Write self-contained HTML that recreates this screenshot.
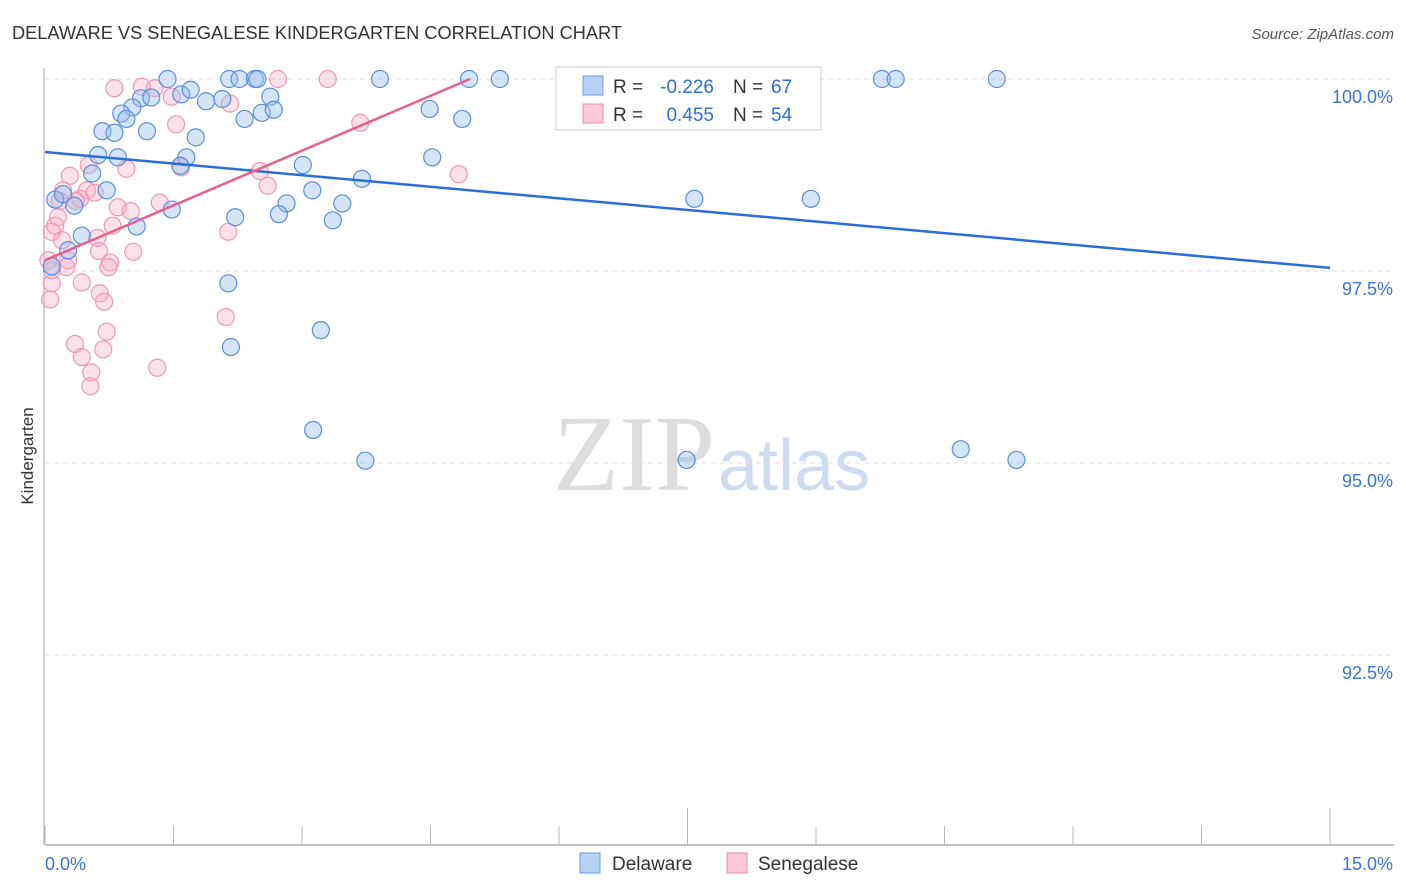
<!DOCTYPE html>
<html><head><meta charset="utf-8"><style>
body{margin:0;background:#fff;font-family:"Liberation Sans",sans-serif}
svg{display:block}
</style></head><body>
<svg width="1406" height="892" xmlns="http://www.w3.org/2000/svg">
<text x="12" y="39" font-size="18" fill="#333" textLength="610" lengthAdjust="spacingAndGlyphs">DELAWARE VS SENEGALESE KINDERGARTEN CORRELATION CHART</text>
<text x="1394" y="39" font-size="15" fill="#555" font-style="italic" text-anchor="end">Source: ZipAtlas.com</text>
<text x="715" y="490" font-size="108" fill="#ddd" text-anchor="end" font-family="Liberation Serif">ZIP</text>
<text x="718" y="490" font-size="72" fill="#cfdcf0">atlas</text>
<g id="grid"></g><g id="axes"></g><g id="pts"></g><g id="lines"></g>
<text transform="translate(33,456) rotate(-90)" font-size="17" fill="#333" text-anchor="middle">Kindergarten</text>
<g>
<rect x="556" y="67" width="265" height="63" fill="#fff" stroke="#ccc"/>
<rect x="583" y="76" width="20" height="19" fill="#b8d3f5" stroke="#6a9de0"/>
<rect x="583" y="104" width="20" height="19" fill="#fcc9d8" stroke="#ec8fad"/>
<text x="613" y="93" font-size="19" fill="#333">R =</text>
<text x="714" y="93" font-size="19" fill="#2f6fd6" text-anchor="end">-0.226</text>
<text x="733" y="93" font-size="19" fill="#333">N =</text>
<text x="771" y="93" font-size="19" fill="#2f6fd6">67</text>
<text x="613" y="121" font-size="19" fill="#333">R =</text>
<text x="714" y="121" font-size="19" fill="#2f6fd6" text-anchor="end">0.455</text>
<text x="733" y="121" font-size="19" fill="#333">N =</text>
<text x="771" y="121" font-size="19" fill="#2f6fd6">54</text>
</g>
<g>
<rect x="580" y="853" width="20" height="20" fill="#b8d3f5" stroke="#6a9de0"/>
<text x="612" y="870" font-size="19" fill="#333">Delaware</text>
<rect x="727" y="853" width="20" height="20" fill="#fcc9d8" stroke="#ec8fad"/>
<text x="758" y="870" font-size="19" fill="#333">Senegalese</text>
</g>
</svg>
<script>
const yTicks=[100,97.5,95,92.5];
const yTickLabels=["100.0%","97.5%","95.0%","92.5%"];
const xTicks=[0,1.5,3,4.5,6,7.5,9,10.5,12,13.5,15];
const xEndLabels=["0.0%","15.0%"];
const delX=[1.43,2.15,2.27,2.45,2.48,3.91,4.95,5.31,9.77,9.93,11.11,1.12,1.24,1.59,1.70,1.88,2.07,2.63,1.02,0.89,0.95,2.33,2.53,2.67,4.49,4.87,0.67,0.81,1.19,1.76,0.62,0.85,1.65,4.52,1.58,3.01,0.55,3.70,0.72,3.12,0.12,0.21,0.34,1.48,2.82,3.47,7.58,8.94,2.22,2.73,3.36,1.07,0.43,0.27,0.08,2.14,3.22,2.17,3.13,3.74,7.49,10.69,11.34];
const delY=[100,100,100,100,100,100,100,100,100,100,100,99.75,99.76,99.80,99.86,99.71,99.74,99.77,99.63,99.55,99.48,99.48,99.56,99.60,99.61,99.48,99.32,99.30,99.32,99.24,99.01,98.98,98.98,98.98,98.87,98.88,98.77,98.70,98.55,98.55,98.43,98.50,98.35,98.30,98.38,98.38,98.44,98.44,98.20,98.24,98.16,98.08,97.96,97.77,97.56,97.34,96.73,96.51,95.43,95.03,95.04,95.18,95.04];
const senX=[0.81,1.13,1.28,1.48,2.16,2.72,3.30,3.68,1.53,0.51,1.59,0.95,2.51,0.29,4.83,2.60,0.49,0.58,0.21,1.34,0.85,0.41,0.15,1.00,0.79,2.14,0.08,0.12,0.61,0.20,0.63,1.03,0.27,0.76,0.74,0.25,0.08,0.43,0.64,0.69,0.06,2.11,0.72,0.35,0.68,0.43,1.31,0.54,0.53,0.36,0.17,0.04,0.08];
const senY=[99.88,99.90,99.88,99.77,99.68,100,100,99.43,99.41,98.88,98.85,98.83,98.80,98.74,98.76,98.61,98.55,98.52,98.55,98.39,98.33,98.44,98.20,98.28,98.09,98.01,98.01,98.09,97.93,97.90,97.76,97.75,97.64,97.61,97.55,97.55,97.34,97.35,97.21,97.10,97.13,96.90,96.71,96.55,96.48,96.38,96.24,96.18,96.00,98.41,98.41,97.64,97.51];
const delTrend=[[0,99.05],[15,97.54]];
const senTrend=[[0,97.64],[4.96,100]];
const NS="http://www.w3.org/2000/svg";
const X=v=>45+v*(1285/15), Y=v=>79+(100-v)*76.8;
function mk(t,a,p){const e=document.createElementNS(NS,t);for(const k in a)e.setAttribute(k,a[k]);document.getElementById(p).appendChild(e);return e;}
yTicks.forEach((v,i)=>{
 const g=mk('line',{x1:45,x2:1394,y1:Y(v),y2:Y(v),stroke:'#ddd','stroke-dasharray':'5,4'},'grid');
 
 
 const t=mk('text',{x:1393,y:Y(v)+24,'font-size':18,fill:'#3a75d6','text-anchor':'end'},'grid');
 t.textContent=yTickLabels[i];
 
 
});
const ax=mk('line',{x1:45,x2:1394,y1:845,y2:845,stroke:'#aaa','stroke-width':1.5},'axes');


const ay=mk('line',{x1:44,x2:44,y1:68,y2:845,stroke:'#aaa'},'axes');


xTicks.forEach((v,i)=>{
 const big=(i==5||i==10);
 const l=mk('line',{x1:X(v),x2:X(v),y1:big?808:826,y2:845,stroke:'#bbb'},'axes');
 
 
});
[[0,'start'],[15,'end']].forEach((a,i)=>{
 const t=mk('text',{x:i?1393:45,y:870,'font-size':18,fill:'#3a75d6','text-anchor':a[1]},'axes');
 t.textContent=xEndLabels[i];
 
 
});
senX.forEach((v,i)=>{
 const c=mk('circle',{cx:X(v),cy:Y(senY[i]),r:8.5,fill:'rgba(248,170,195,0.35)',stroke:'#ee9ab5','stroke-width':1.2},'pts');
 
 
});
delX.forEach((v,i)=>{
 const c=mk('circle',{cx:X(v),cy:Y(delY[i]),r:8.5,fill:'rgba(150,190,240,0.4)',stroke:'#5b8fdc','stroke-width':1.2},'pts');
 
 
});
const l1=mk('line',{x1:X(delTrend[0][0]),y1:Y(delTrend[0][1]),x2:X(delTrend[1][0]),y2:Y(delTrend[1][1]),stroke:'#2a6fd6','stroke-width':2.5},'lines');


const l2=mk('line',{x1:X(senTrend[0][0]),y1:Y(senTrend[0][1]),x2:X(senTrend[1][0]),y2:Y(senTrend[1][1]),stroke:'#e8608e','stroke-width':2.5},'lines');


</script>
</body></html>
